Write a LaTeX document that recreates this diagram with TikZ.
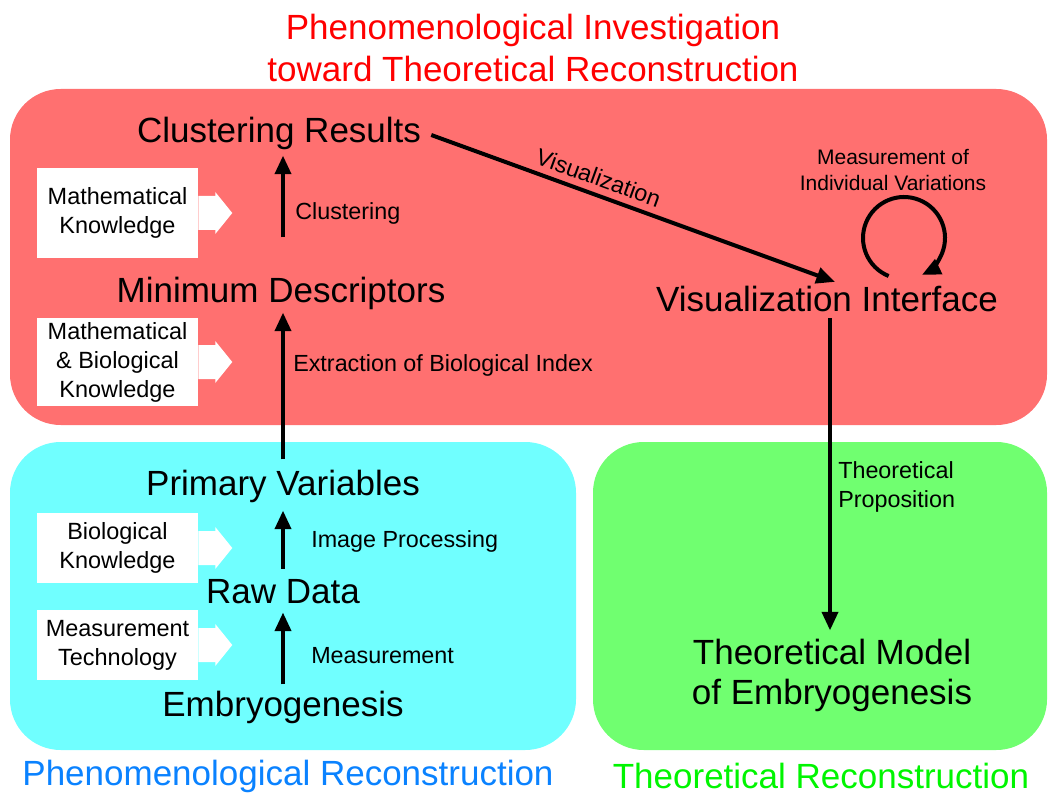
\documentclass[tikz,border=0pt]{standalone}
\usepackage{fontspec}
\setmainfont{Liberation Sans}
\usetikzlibrary{arrows.meta,calc}
\definecolor{regred}{RGB}{255,112,112}
\definecolor{regcyan}{RGB}{112,255,255}
\definecolor{reggreen}{RGB}{112,255,112}
\definecolor{titlered}{RGB}{255,0,0}
\definecolor{titleblue}{RGB}{10,130,255}
\definecolor{titlegreen}{RGB}{0,245,0}
\newcommand{\knowarrow}[1]{%
  \fill[white] ($(#1.east)+(0,-17)$) -- ++(17,0) -- ++(0,-4) -- ($(#1.east)+(34,0)$)
    -- ($(#1.east)+(17,21)$) -- ++(0,-4) -- ($(#1.east)+(0,17)$) -- cycle;}
\begin{document}
\begin{tikzpicture}[x=0.75pt,y=-0.75pt,
  big/.style={font=\fontsize{26.25}{30}\selectfont, inner sep=0pt, align=center},
  lbl/.style={font=\fontsize{17.5}{22}\selectfont, inner sep=0pt, anchor=west, align=left},
  know/.style={fill=white, font=\fontsize{17.6}{21.8}\selectfont, align=center,
    minimum width=120.75pt, inner sep=0pt},
  flow/.style={line width=3pt, -{Triangle[length=14pt,width=12pt]}},
  region/.style={rounded corners=38pt},
]
\useasboundingbox (0,0) rectangle (1057,795);
% regions
\fill[regred, region] (10,89) rectangle (1047,425);
\fill[regcyan, region] (10,442) rectangle (576,750);
\fill[reggreen, region] (593,442) rectangle (1047,750);
% titles
\node[font=\fontsize{26.25}{31.5}\selectfont, text=titlered, align=center] (title) at (533,48)
  {Phenomenological Investigation\\toward Theoretical Reconstruction};
\node[font=\fontsize{26.25}{30}\selectfont, text=titleblue] (tphen) at (288,776) {Phenomenological Reconstruction};
\node[font=\fontsize{26.25}{30}\selectfont, text=titlegreen] (ttheo) at (821,776) {Theoretical Reconstruction};
% main nodes
\node[big] (clu) at (279,133) {Clustering Results};
\node[big] (md) at (281,293) {Minimum Descriptors};
\node[big] (vis) at (827,299) {Visualization Interface};
\node[big] (pv) at (283,486) {Primary Variables};
\node[big] (raw) at (283,592) {Raw Data};
\node[big] (emb) at (283,707) {Embryogenesis};
\node[big] (theo) at (832,675) {Theoretical Model\\of Embryogenesis};
% knowledge boxes
\node[know, minimum height=67.5pt] (k1) at (117.5,213) {Mathematical\\Knowledge};
\node[know, minimum height=66pt] (k2) at (117.5,362) {Mathematical\\\& Biological\\Knowledge};
\node[know, minimum height=52.5pt] (k3) at (117.5,548) {Biological\\Knowledge};
\node[know, minimum height=52.5pt] (k4) at (117.5,645) {Measurement\\Technology};
\knowarrow{k1}
\knowarrow{k2}
\knowarrow{k3}
\knowarrow{k4}
% labels
\node[lbl] (lclu) at (295,213) {Clustering};
\node[lbl] (lext) at (293,365) {Extraction of Biological Index};
\node[lbl] (limg) at (311,541) {Image Processing};
\node[lbl] (lmeas) at (311,656) {Measurement};
\node[lbl] (lprop) at (838,487) {Theoretical\\Proposition};
\node[font=\fontsize{15.75}{20}\selectfont, align=center, inner sep=0pt] (lind) at (893,170)
  {Measurement of\\Individual Variations};
% arrows
\draw[flow] ($(md.north)+(2,-39)$) -- ($(clu.south)+(4,6)$);
\draw[flow] ($(pv.north)+(0,-10)$) -- ($(md.south)+(2,3)$);
\draw[flow] ($(raw.north)+(0,-11)$) -- ($(pv.south)+(0,8)$);
\draw[flow] ($(emb.north)+(0,-6)$) -- ($(raw.south)+(0,8)$);
\draw[flow] ($(clu.east)+(10,2)$) -- node[sloped, above, pos=0.40, inner sep=5pt,
  font=\fontsize{17.5}{22}\selectfont] (lvis) {Visualization} ($(vis.north)+(8,-4)$);
\draw[flow] ($(vis.south)+(3,6)$) -- ($(theo.north)+(-2,-8)$);
\coordinate (loopc) at (904,238);
\draw[flow] ([shift={(112:41)}]loopc) arc[start angle=112, end angle=424, radius=41];
\end{tikzpicture}
\end{document}
